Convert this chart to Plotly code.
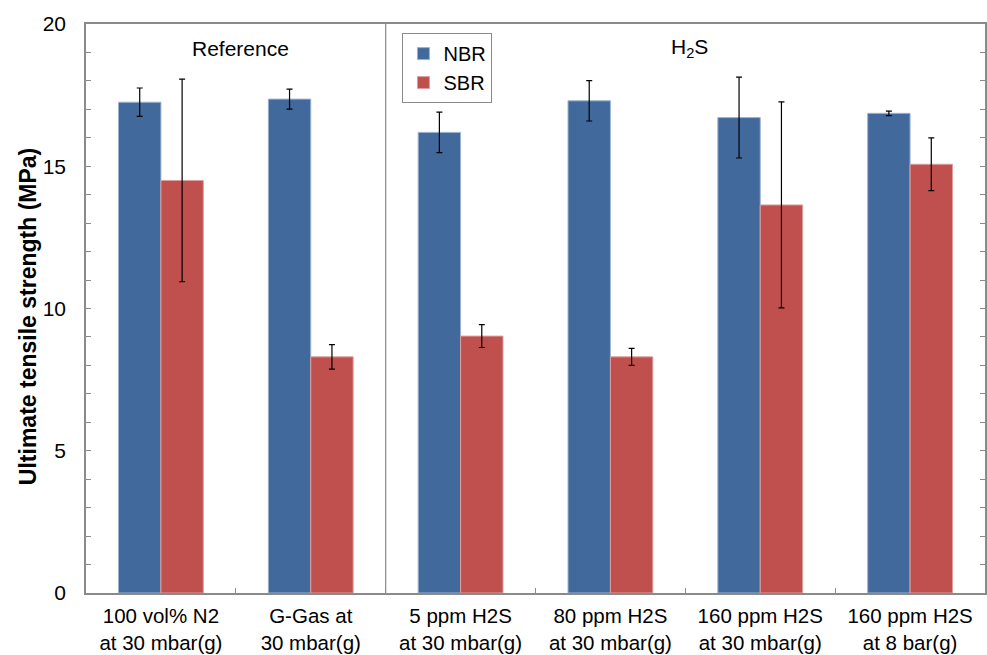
import plotly.graph_objects as go

# Test conditions (two-line tick labels)
conditions = [
    "100 vol% N2<br>at 30 mbar(g)",
    "G-Gas at<br>30 mbar(g)",
    "5 ppm H2S<br>at 30 mbar(g)",
    "80 ppm H2S<br>at 30 mbar(g)",
    "160 ppm H2S<br>at 30 mbar(g)",
    "160 ppm H2S<br>at 8 bar(g)",
]

# Ultimate tensile strength (MPa) and standard deviations
nbr_mean = [17.25, 17.36, 16.19, 17.30, 16.71, 16.86]
nbr_err = [0.50, 0.35, 0.71, 0.71, 1.42, 0.08]
sbr_mean = [14.50, 8.30, 9.03, 8.30, 13.64, 15.07]
sbr_err = [3.56, 0.43, 0.40, 0.30, 3.62, 0.93]

NBR_COLOR = "#41699c"
SBR_COLOR = "#c0504d"
AXIS_GRAY = "#8a8a8a"
FONT = "Liberation Sans, Arial, sans-serif"

fig = go.Figure()
fig.add_trace(go.Bar(
    name="NBR", x=conditions, y=nbr_mean,
    marker=dict(color=NBR_COLOR, line=dict(color="#9db2cf", width=1)),
    error_y=dict(type="data", array=nbr_err, visible=True,
                 color="#000000", thickness=1.2, width=3),
))
fig.add_trace(go.Bar(
    name="SBR", x=conditions, y=sbr_mean,
    marker=dict(color=SBR_COLOR, line=dict(color="#dc9f9d", width=1)),
    error_y=dict(type="data", array=sbr_err, visible=True,
                 color="#000000", thickness=1.2, width=3),
))

# Divider between the reference gases and the H2S exposures
fig.add_shape(type="line", xref="x", yref="paper", x0=1.5, x1=1.5, y0=0, y1=1,
              line=dict(color=AXIS_GRAY, width=1.2))

fig.add_annotation(text="Reference", xref="x", yref="y", x=0.53, y=19.15,
                   showarrow=False, font=dict(size=21, color="#000000", family=FONT))
fig.add_annotation(text="H<sub>2</sub>S", xref="x", yref="y", x=3.53, y=19.15,
                   showarrow=False, font=dict(size=21, color="#000000", family=FONT))

# Vertical axis title
fig.add_annotation(text="<b>Ultimate tensile strength (MPa)</b>", textangle=-90,
                   xref="paper", yref="paper", x=-0.0644, y=0.485,
                   xanchor="center", yanchor="middle", showarrow=False,
                   font=dict(size=23, color="#000000", family=FONT))

fig.update_layout(
    width=987, height=655,
    margin=dict(l=86, r=0, t=24, b=62),
    paper_bgcolor="white", plot_bgcolor="white",
    font=dict(family=FONT, size=20, color="#000000"),
    barmode="group", bargap=0.434, bargroupgap=0,
    showlegend=True,
    legend=dict(
        x=0.352, y=0.984, xanchor="left", yanchor="top",
        bgcolor="white", bordercolor=AXIS_GRAY, borderwidth=1,
        font=dict(size=20, family=FONT), itemwidth=30,
        tracegroupgap=0,
    ),
    xaxis=dict(
        type="category", range=[-0.5, 5.5],
        showline=True, linecolor=AXIS_GRAY, linewidth=1.5, mirror=True,
        ticks="inside", tickson="boundaries", ticklen=5, tickcolor=AXIS_GRAY,
        tickfont=dict(size=20.5, family=FONT), ticklabelstandoff=4,
        showgrid=False, zeroline=False,
    ),
    yaxis=dict(
        range=[0, 20], dtick=5,
        showline=True, linecolor=AXIS_GRAY, linewidth=1.5, mirror="ticks",
        ticks="inside", ticklen=5, tickcolor=AXIS_GRAY,
        minor=dict(dtick=1, ticks="inside", ticklen=5, tickcolor=AXIS_GRAY),
        tickfont=dict(size=21, family=FONT), ticklabelstandoff=14,
        showgrid=False, zeroline=False,
    ),
)

fig.write_html("out.html")
